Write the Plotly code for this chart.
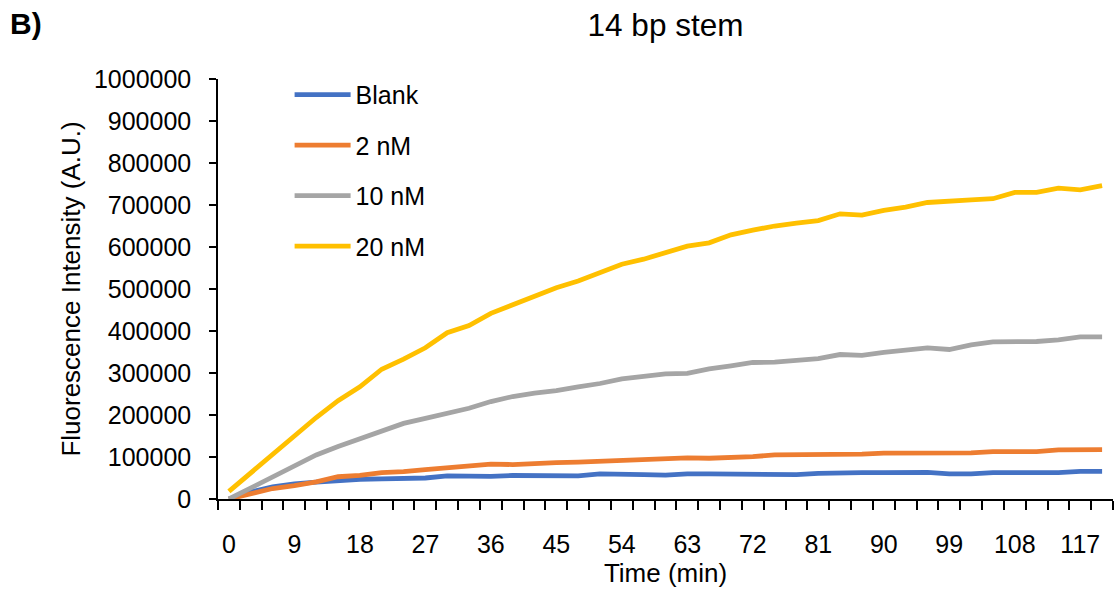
import plotly.graph_objects as go

time_min = [0, 3, 6, 9, 12, 15, 18, 21, 24, 27, 30, 33, 36, 39, 42, 45, 48, 51, 54, 57,
            60, 63, 66, 69, 72, 75, 78, 81, 84, 87, 90, 93, 96, 99, 102, 105, 108, 111, 114, 117, 120]

blank = [0, 17000, 29000, 36000, 40000, 44000, 47000, 48000, 49000, 50000,
         55000, 54000, 54000, 56000, 55000, 56000, 55000, 60000, 60000, 58000,
         57000, 60000, 60000, 60000, 60000, 58000, 58000, 61000, 63000, 63000,
         63000, 63000, 63500, 60000, 60000, 63000, 64000, 63000, 63000, 66000, 66000]

nm2 = [0, 12000, 25000, 32000, 41000, 53000, 56000, 63000, 65000, 70000,
       75000, 78000, 83000, 82000, 83000, 86500, 88000, 90000, 92000, 92000,
       95000, 98000, 97000, 98000, 101000, 105000, 105000, 105000, 107000, 107000,
       109000, 109000, 110000, 109000, 110000, 113000, 113000, 113000, 117000, 117000, 117500]

nm10 = [0, 27000, 53000, 79000, 105000, 125000, 144000, 162000, 180000, 192000,
        204000, 216000, 232000, 244000, 252000, 258000, 267000, 275000, 286000, 293000,
        298000, 299000, 310000, 317000, 325000, 326000, 329000, 334000, 344000, 342000,
        349000, 355000, 360000, 356000, 367000, 374000, 375000, 375000, 379000, 386000, 386000]

nm20 = [18000, 61000, 105000, 150000, 194000, 234000, 267000, 309000, 333000, 360000,
        396000, 413000, 442000, 462000, 482000, 503000, 519000, 540000, 559000, 571000,
        586000, 602000, 610000, 629000, 640000, 650000, 657000, 663000, 679000, 676000,
        687000, 695000, 706000, 708000, 712000, 715000, 730000, 730000, 740000, 736000, 746000]

series_names = ["Blank", "2 nM", "10 nM", "20 nM"]
series_values = [blank, nm2, nm10, nm20]
series_colors = ["#4472C4", "#ED7D31", "#A5A5A5", "#FFC000"]

x_tick_labels = [0, 9, 18, 27, 36, 45, 54, 63, 72, 81, 90, 99, 108, 117]
y_tick_values = [0, 100000, 200000, 300000, 400000, 500000, 600000, 700000, 800000, 900000, 1000000]

FONT = "Liberation Sans, Arial, sans-serif"

fig = go.Figure()
for i, (name, vals, col) in enumerate(zip(series_names, series_values, series_colors)):
    fig.add_trace(go.Scatter(
        x=time_min, y=vals, name=name, mode="lines",
        line=dict(color=col, width=4.8),
        legendgroup=f"g{i}",
    ))

fig.update_layout(
    width=1116, height=590,
    margin=dict(l=218, r=3, t=79, b=91, autoexpand=False),
    paper_bgcolor="white", plot_bgcolor="white",
    font=dict(family=FONT, size=25, color="#000000"),
    title=dict(text="14 bp stem", x=0.5, xref="paper", xanchor="center",
               y=1 - 25 / 590, yref="container", yanchor="middle",
               font=dict(size=31.5, color="#000000")),
    showlegend=True,
    legend=dict(x=0.080, xanchor="left", y=1.017, yanchor="top",
                bgcolor="rgba(0,0,0,0)", font=dict(size=25),
                traceorder="grouped", tracegroupgap=15, itemwidth=56),
    annotations=[dict(text="<b>B)</b>", x=-0.2347, xref="paper", xanchor="left",
                      y=1.131, yref="paper", yanchor="middle", showarrow=False,
                      font=dict(size=30, color="#000000"))],
)

fig.update_xaxes(
    range=[-1.5, 121.5], tickmode="array", tickvals=x_tick_labels,
    ticktext=[str(v) for v in x_tick_labels], ticks="", ticklen=0, ticklabelstandoff=22,
    showline=True, linecolor="#000000", linewidth=1.5, showgrid=False, zeroline=False,
    automargin=False,
    minor=dict(tick0=-1.5, dtick=3, ticks="outside", ticklen=9, tickwidth=1.5,
               tickcolor="#000000", showgrid=False),
    title=dict(text="Time (min)", font=dict(size=26), standoff=0),
)

fig.update_yaxes(
    range=[0, 1000000], tickmode="array", tickvals=y_tick_values,
    ticktext=[str(v) for v in y_tick_values],
    ticks="outside", ticklen=7, tickwidth=1.5, tickcolor="#000000", ticklabelstandoff=13,
    showline=True, linecolor="#000000", linewidth=1.5, showgrid=False, zeroline=False,
    automargin=False,
    title=dict(text="Fluorescence Intensity (A.U.)", font=dict(size=26), standoff=6),
)

fig.write_html("out.html", config={"displayModeBar": False},
               post_script="document.body.style.margin='0';")
